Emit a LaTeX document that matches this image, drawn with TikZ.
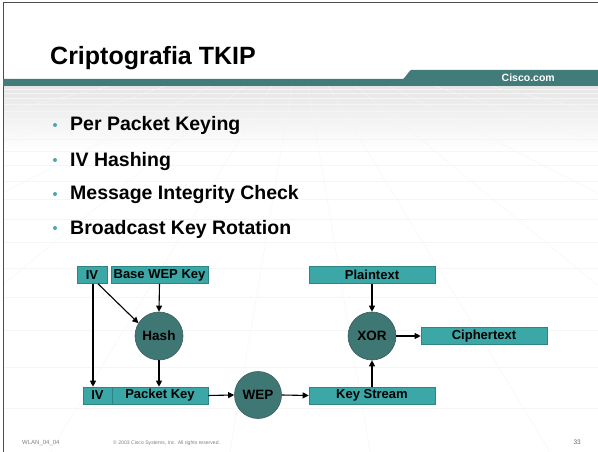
\documentclass[tikz,border=0pt]{standalone}
\usepackage{fontspec}
\setmainfont{Liberation Sans}
\usetikzlibrary{arrows.meta}
\definecolor{band}{HTML}{417C7A}
\definecolor{boxfill}{HTML}{3BA7A6}
\definecolor{boxline}{HTML}{2B8584}
\definecolor{circfill}{HTML}{3F7775}
\definecolor{circline}{HTML}{3A5E5D}
\definecolor{bullet}{HTML}{4AA8A8}
\tikzset{
  keybox/.style={draw=boxline, line width=0.6pt, fill=boxfill, minimum height=17pt, inner sep=0pt, font=\bfseries\fontsize{13}{13}\selectfont},
  opcirc/.style={circle, draw=circline, line width=0.6pt, fill=circfill, inner sep=0pt, font=\bfseries\fontsize{13.5}{13.5}\selectfont},
  arr/.style={-{Triangle[length=6pt,width=6pt]}, line width=1.1pt, black},
  btext/.style={anchor=base west, inner sep=0pt, font=\bfseries\fontsize{19.5}{19.5}\selectfont},
  gridline/.style={gray!8, line width=0.4pt}
}
\begin{document}
\begin{tikzpicture}[x=1pt, y=-1pt]
\useasboundingbox (0,0) rectangle (598,452);
\fill[white] (0,0) rectangle (598,452);
% faint background grid
\begin{scope}
\clip (3,86) rectangle (598,452);
\shade[top color=gray!20, bottom color=white] (3,86) rectangle (598,150);
\foreach \yy in {89,93,98,104,111,119,128,139,151,165,181,199,219,242,268,297,330,367,408}
  \draw[gridline] (3,\yy) -- (598,\yy);
\foreach \xx in {-1400,-900,-500,-200,50,230,370,550,800,1100,1500,2000}
  \draw[gridline] (300,40) -- (\xx,452);
\end{scope}
% frame
\draw[gray!60!black, line width=1pt] (3,452) -- (3,3) -- (598,3);
% title band
\fill[band] (3,79) -- (403,79) .. controls (406,77) and (408,72) .. (411,70) -- (598,70) -- (598,86) -- (3,86) -- cycle;
\node[anchor=base east, inner sep=0pt, text=white, font=\bfseries\fontsize{10.5}{10.5}\selectfont] (cisco) at (555,82) {Cisco.com};
\node[anchor=base west, inner sep=0pt, font=\bfseries\fontsize{25}{25}\selectfont] (title) at (50,65) {Criptografia TKIP};
% bullets
\foreach \yy/\tt [count=\i] in {131/Per Packet Keying,166/IV Hashing,200/Message Integrity Check,234/Broadcast Key Rotation}{
  \fill[bullet] (55,\yy-6) circle (2pt);
  \node[btext] (b\i) at (70,\yy) {\tt};
}
% diagram
\node[keybox, minimum width=30pt] (ivA) at (92,275) {IV};
\node[keybox, minimum width=97pt] (base) at (159.5,275) {Base WEP Key};
\node[opcirc, minimum size=48pt] (hash) at (159,336) {Hash};
\node[keybox, minimum width=29pt] (ivB) at (97.5,395.5) {IV};
\node[keybox, minimum width=96pt] (pkey) at (160,395.5) {Packet Key};
\node[opcirc, minimum size=47pt] (wep) at (258,395) {WEP};
\node[keybox, minimum width=126pt] (ks) at (372,395.5) {Key Stream};
\node[keybox, minimum width=126pt] (plain) at (372,275) {Plaintext};
\node[opcirc, minimum size=48pt] (xor) at (372,336) {XOR};
\node[keybox, minimum width=126pt] (cipher) at (484,336) {Ciphertext};
\draw[arr] ([xshift=1pt]ivA.south) -- ([xshift=1pt]ivA.south |- ivB.north);
\draw[arr] ([xshift=6pt]ivA.south) -- (hash.148);
\draw[arr] (base.south) -- (hash.north);
\draw[arr] (hash.south) -- (hash.south |- pkey.north);
\draw[arr] (pkey.east) -- (wep.west);
\draw[arr] (wep.east) -- (ks.west);
\draw[arr] (plain.south) -- (xor.north);
\draw[arr] (xor.east) -- (cipher.west);
\draw[arr] (ks.north) -- (xor.south);
% footer
\node[anchor=base west, inner sep=0pt, text=gray, font=\fontsize{6}{6}\selectfont] (foot1) at (22,444) {WLAN\_04\_04};
\node[anchor=base west, inner sep=0pt, text=gray, font=\fontsize{5.1}{5.1}\selectfont] (foot2) at (113,444) {© 2003 Cisco Systems, Inc. All rights reserved.};
\node[anchor=base east, inner sep=0pt, text=gray!80!black, font=\fontsize{6.5}{6.5}\selectfont] (foot3) at (581,444) {33};
\end{tikzpicture}
\end{document}
